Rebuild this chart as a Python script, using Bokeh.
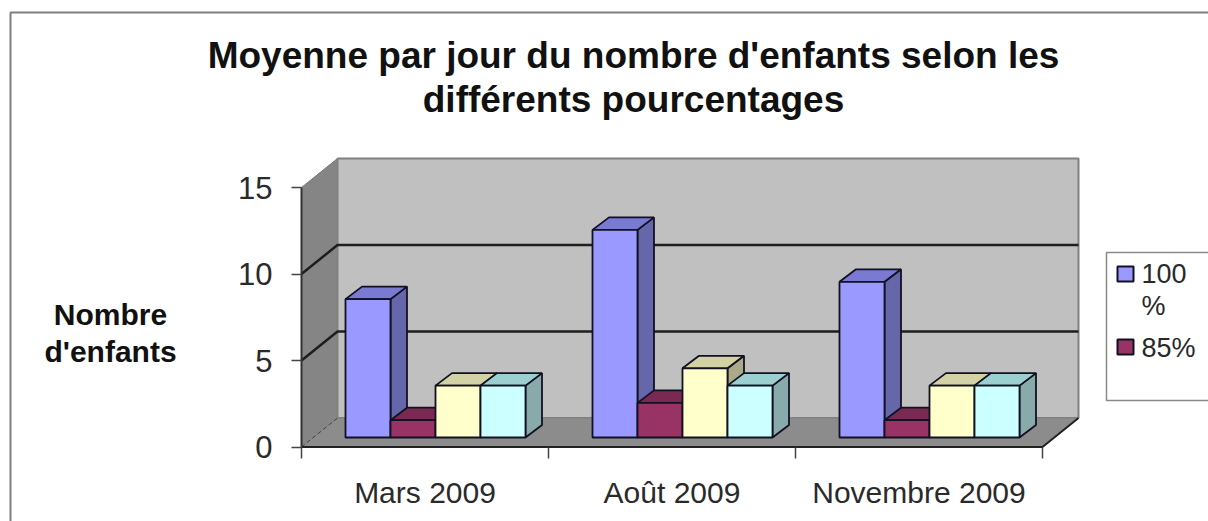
from bokeh.plotting import figure
from bokeh.models import LinearAxis, FixedTicker, Range1d
from bokeh.core.properties import value
from bokeh.embed import file_html
from bokeh.resources import INLINE

categories = ["Mars 2009", "Août 2009", "Novembre 2009"]
legend_labels = ["100", "%", "85%"]
s100 = [8, 12, 9]
s85 = [1, 2, 1]
s70 = [3, 4, 3]
s50 = [3, 3, 3]
series = [s100, s85, s70, s50]
front_colors = ["#9999FF", "#993366", "#FFFFCC", "#CCFFFF"]
top_colors = ["#7A7AD2", "#7A2952", "#D2D2A4", "#9CCFCF"]
side_colors = ["#6666AA", "#66223F", "#AAAA88", "#88AAAA"]
y_ticks = [0, 5, 10, 15]
title_lines = ["Moyenne par jour du nombre d'enfants selon les", "différents pourcentages"]
ytitle_lines = ["Nombre", "d'enfants"]

W, H = 1208, 521
OX, OY = 0, 0
X0, Y0 = 301.0, 446.5  # screen position of the axes origin
UX, UY = 247.0, 17.3   # px per category, px per value
def dx(px): return px / UX
def dy(px): return px / UY
def sx(px): return (px - X0) / UX   # screen x -> data
def sy(px): return (Y0 - px) / UY   # screen y -> data

p = figure(width=W, height=H, output_backend="svg", toolbar_location=None,
           x_range=Range1d(sx(OX), sx(OX + W)), y_range=Range1d(sy(OY + H), sy(OY)),
           x_axis_location=None, y_axis_location=None, min_border=0,
           outline_line_color=None, background_fill_color="white")
p.grid.visible = False

WALL_DX, WALL_DY = dx(36), dy(29)
n_cat = len(categories)

# outer chart border
p.line([sx(10), sx(10), sx(1208)], [sy(521), sy(12), sy(12)], line_color="#7F7F7F", line_width=2)

# walls and floor
p.patch([0, WALL_DX, WALL_DX, 0], [0, WALL_DY, 15 + WALL_DY, 15],
        fill_color="#858585", line_color="#777777", line_width=1)
p.patch([WALL_DX, n_cat + WALL_DX, n_cat + WALL_DX, WALL_DX], [WALL_DY, WALL_DY, 15 + WALL_DY, 15 + WALL_DY],
        fill_color="#C0C0C0", line_color="#808080", line_width=2)
p.patch([0, n_cat, n_cat + WALL_DX, WALL_DX], [0, 0, WALL_DY, WALL_DY],
        fill_color="#8C8C8C", line_color="#808080", line_width=1)
# gridlines
for t in y_ticks[1:-1]:
    p.line([0, WALL_DX, n_cat + WALL_DX], [t, t + WALL_DY, t + WALL_DY], line_color="#1E1E1E", line_width=2.5)
p.line([0, WALL_DX], [0, WALL_DY], line_color="#444444", line_width=1, line_dash="4 3")
p.line([0, n_cat, n_cat + WALL_DX], [0, 0, WALL_DY], line_color="#222222", line_width=2)

# bars
BAR_W = dx(45)
BAR_X0 = dx(44)
BASE = dy(9.5)
D_X, D_Y = dx(16.5), dy(12.5)
for j, vals in enumerate(series):
    lefts = [i + BAR_X0 + j * BAR_W for i in range(n_cat)]
    rights = [l + BAR_W for l in lefts]
    tops = [BASE + v for v in vals]
    side_xs = [[r, r + D_X, r + D_X, r] for r in rights]
    side_ys = [[BASE, BASE + D_Y, t + D_Y, t] for t in tops]
    top_xs = [[l, r, r + D_X, l + D_X] for l, r in zip(lefts, rights)]
    top_ys = [[t, t, t + D_Y, t + D_Y] for t in tops]
    p.patches(side_xs, side_ys, fill_color=side_colors[j], line_color="#111122", line_width=1.8)
    p.patches(top_xs, top_ys, fill_color=top_colors[j], line_color="#111122", line_width=1.8)
    p.quad(left=lefts, right=rights, bottom=[BASE] * n_cat, top=tops,
           fill_color=front_colors[j], line_color="#111122", line_width=1.8)

# axes
yax = LinearAxis(fixed_location=0, bounds=(0, 15), ticker=FixedTicker(ticks=y_ticks),
                 axis_line_color="#333333", axis_line_width=2,
                 major_tick_line_color="#444444", major_tick_line_width=1.5,
                 major_tick_in=0, major_tick_out=10, minor_tick_out=0, minor_tick_in=0,
                 major_label_standoff=19, major_label_text_font="Liberation Sans",
                 major_label_text_font_size="31px", major_label_text_color="#2A2A2A")
p.add_layout(yax, "left")

xax = LinearAxis(fixed_location=0, bounds=(0, n_cat),
                 ticker=FixedTicker(ticks=[i + 0.5 for i in range(n_cat)], minor_ticks=list(range(n_cat + 1))),
                 major_label_overrides={i + 0.5: c for i, c in enumerate(categories)},
                 axis_line_color=None, major_tick_line_color=None, major_tick_in=0, major_tick_out=0,
                 minor_tick_line_color="#444444", minor_tick_line_width=1.5, minor_tick_in=0, minor_tick_out=11,
                 major_label_standoff=18, major_label_text_font="Liberation Sans",
                 major_label_text_font_size="30px", major_label_text_color="#2A2A2A")
p.add_layout(xax, "below")

# legend
p.quad(left=[sx(1106)], right=[sx(1230)], top=[sy(252)], bottom=[sy(400)],
       fill_color="white", line_color="#8A8A8A", line_width=1.5)
p.quad(left=[sx(1117), sx(1117)], right=[sx(1133), sx(1133)], top=[sy(266), sy(339)], bottom=[sy(281), sy(354)],
       fill_color=front_colors[:2], line_color="#111122", line_width=2)
p.text(x=[sx(1141)] * 3, y=[sy(273), sy(305), sy(347)], text=legend_labels, text_align="left", text_baseline="middle",
       text_font=value("Liberation Sans"), text_font_size="27px", text_color="#2A2A2A")

# titles
p.text(x=[sx(633), sx(633)], y=[sy(55), sy(99)], text=title_lines, text_align="center", text_baseline="middle",
       text_font=value("Liberation Sans"), text_font_style="bold", text_font_size="37px", text_color="#111111")
p.text(x=[sx(110), sx(110)], y=[sy(314), sy(351)], text=ytitle_lines, text_align="center", text_baseline="middle",
       text_font=value("Liberation Sans"), text_font_style="bold", text_font_size="30px", text_color="#111111")

open("out.html", "w").write(file_html(p, INLINE))
